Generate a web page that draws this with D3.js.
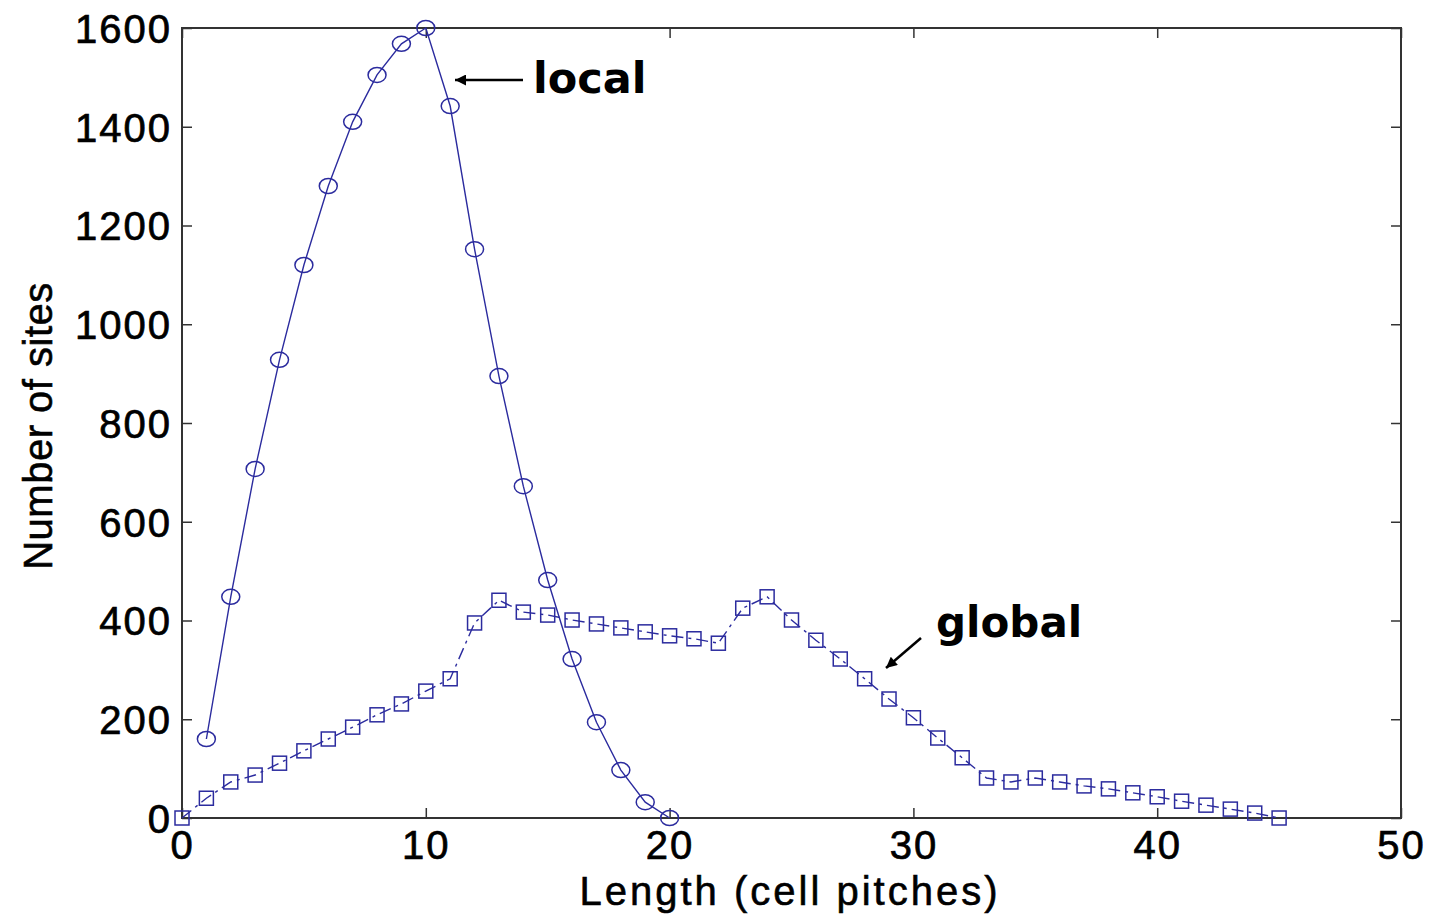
<!DOCTYPE html>
<html>
<head>
<meta charset="utf-8">
<script src="https://cdn.jsdelivr.net/npm/d3@7"></script>
<style>
  body { margin: 0; background: #fff; }
  svg { display: block; }
  .tick text { font-family: "Liberation Sans", Arial, sans-serif; font-size: 40px; fill: #000;
    stroke: #000; stroke-width: 0.7px; letter-spacing: 2px; }
</style>
</head>
<body>
<svg id="chart" width="1429" height="914"></svg>
<script>
// local wires (circles, solid)
const localX = [1, 2, 3, 4, 5, 6, 7, 8, 9, 10, 11, 12, 13, 14, 15, 16, 17, 18, 19, 20];
const localY = [160, 448, 707, 928, 1120, 1280, 1410, 1505, 1568, 1600, 1442, 1152, 895, 672, 482, 322, 194, 97, 32, 0];

// global wires (squares, dash-dot)
const globalX = d3.range(0, 46);
const globalY = [0, 40, 73, 87, 111, 136, 160, 184, 209, 231, 257, 282, 395, 441, 417, 411,
  401, 393, 385, 377, 369, 363, 354, 425, 448, 401, 360, 322, 282, 241, 203, 162,
  122, 81, 73, 81, 73, 65, 59, 51, 43, 34, 26, 18, 10, 0];

const xTicks = [0, 10, 20, 30, 40, 50];
const yTicks = [0, 200, 400, 600, 800, 1000, 1200, 1400, 1600];

const margin = { left: 182, top: 28, right: 28, bottom: 96 };
const W = 1429, H = 914;
const svg = d3.select('#chart');

const x = d3.scaleLinear().domain([0, 50]).range([margin.left, W - margin.right]);
const y = d3.scaleLinear().domain([0, 1600]).range([H - margin.bottom, margin.top]);

const blue = '#2b2b9e';
const axisCol = '#333';
const fmt = d3.format('d');

// frame
svg.append('rect')
  .attr('x', x(0)).attr('y', y(1600))
  .attr('width', x(50) - x(0)).attr('height', y(0) - y(1600))
  .attr('fill', 'none').attr('stroke', axisCol).attr('stroke-width', 2);

// axes with inward ticks
const gx = svg.append('g').attr('transform', `translate(0,${y(0)})`)
  .call(d3.axisBottom(x).tickValues(xTicks).tickFormat(fmt).tickSizeInner(-10).tickSizeOuter(0).tickPadding(13));
const gy = svg.append('g').attr('transform', `translate(${x(0)},0)`)
  .call(d3.axisLeft(y).tickValues(yTicks).tickFormat(fmt).tickSizeInner(-10).tickSizeOuter(0).tickPadding(10));
const gxt = svg.append('g').attr('transform', `translate(0,${y(1600)})`)
  .call(d3.axisTop(x).tickValues(xTicks).tickSizeInner(-10).tickSizeOuter(0).tickFormat(''));
const gyr = svg.append('g').attr('transform', `translate(${x(50)},0)`)
  .call(d3.axisRight(y).tickValues(yTicks).tickSizeInner(-10).tickSizeOuter(0).tickFormat(''));
[gx, gy, gxt, gyr].forEach(g => {
  g.select('.domain').remove();
  g.selectAll('.tick line').attr('stroke', axisCol).attr('stroke-width', 1.5);
});
gx.selectAll('.tick text').attr('dy', '0.71em');
gy.selectAll('.tick text').attr('dy', '0.36em');

// axis labels
svg.append('text')
  .attr('x', 790).attr('y', 905)
  .attr('text-anchor', 'middle')
  .style('font-family', '"Liberation Sans", Arial, sans-serif')
  .style('font-size', '40px')
  .style('stroke', '#000').style('stroke-width', '0.6px')
  .style('letter-spacing', '3px')
  .text('Length (cell pitches)');
svg.append('text')
  .attr('transform', 'translate(52,426) rotate(-90)')
  .attr('text-anchor', 'middle')
  .style('font-family', '"Liberation Sans", Arial, sans-serif')
  .style('font-size', '40px')
  .style('stroke', '#000').style('stroke-width', '0.6px')
  .style('letter-spacing', '0.5px')
  .text('Number of sites');

// lines
const line = d3.line().x(d => x(d[0])).y(d => y(d[1]));
const localPts = localX.map((v, i) => [v, localY[i]]);
const globalPts = globalX.map((v, i) => [v, globalY[i]]);

svg.append('path').datum(globalPts)
  .attr('d', line).attr('fill', 'none')
  .attr('stroke', blue).attr('stroke-width', 1.4)
  .attr('stroke-dasharray', '12,5,3,5');
svg.append('path').datum(localPts)
  .attr('d', line).attr('fill', 'none')
  .attr('stroke', blue).attr('stroke-width', 1.4);

// markers
svg.append('g').selectAll('ellipse').data(localPts).enter().append('ellipse')
  .attr('cx', d => x(d[0])).attr('cy', d => y(d[1]))
  .attr('rx', 9).attr('ry', 7.5)
  .attr('fill', 'none').attr('stroke', blue).attr('stroke-width', 1.5);
svg.append('g').selectAll('rect').data(globalPts).enter().append('rect')
  .attr('x', d => x(d[0]) - 7).attr('y', d => y(d[1]) - 7)
  .attr('width', 14).attr('height', 14)
  .attr('fill', 'none').attr('stroke', blue).attr('stroke-width', 1.5);

// annotations
const defs = svg.append('defs');
defs.append('marker').attr('id', 'ah')
  .attr('viewBox', '0 0 10 10').attr('refX', 10).attr('refY', 5)
  .attr('orient', 'auto')
  .attr('markerUnits', 'userSpaceOnUse')
  .attr('markerWidth', 16).attr('markerHeight', 11)
  .append('path').attr('d', 'M0,0 L10,5 L0,10 Z').attr('fill', '#000');

svg.append('line')
  .attr('x1', 523).attr('y1', 80).attr('x2', 455).attr('y2', 80)
  .attr('stroke', '#000').attr('stroke-width', 2.5).attr('marker-end', 'url(#ah)');
svg.append('line')
  .attr('x1', 921).attr('y1', 638).attr('x2', 886).attr('y2', 668)
  .attr('stroke', '#000').attr('stroke-width', 2.5).attr('marker-end', 'url(#ah)');

const annFont = '"DejaVu Sans", Verdana, sans-serif';
svg.append('text').attr('x', 533).attr('y', 93)
  .style('font-family', annFont).style('font-weight', 'bold').style('font-size', '43px')
  .text('local');
svg.append('text').attr('x', 936).attr('y', 637)
  .style('font-family', annFont).style('font-weight', 'bold').style('font-size', '42px')
  .text('global');
</script>
</body>
</html>
